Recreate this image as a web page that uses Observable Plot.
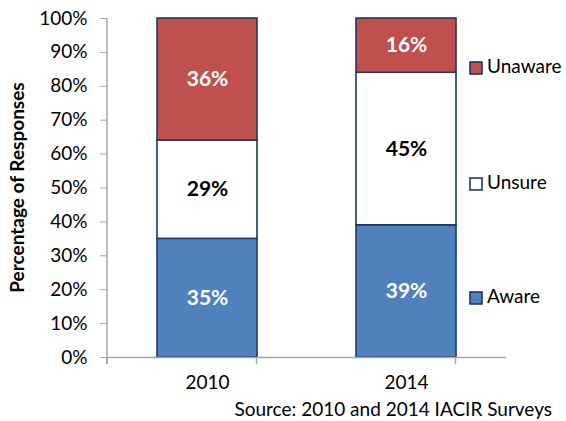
<!DOCTYPE html>
<html>
<head>
<meta charset="utf-8">
<script src="https://cdn.jsdelivr.net/npm/d3@7"></script>
<script src="https://cdn.jsdelivr.net/npm/@observablehq/plot@0.6"></script>
<style>
  html, body { margin: 0; padding: 0; background: #fff; }
  #chart svg { display: block; }
</style>
</head>
<body>
<div id="chart"></div>
<script>
const years = ["2010", "2014"];
const categories = ["Aware", "Unsure", "Unaware"];
const aware = [35, 39];
const unsure = [29, 45];
const unaware = [36, 16];
const yTicks = [0, 10, 20, 30, 40, 50, 60, 70, 80, 90, 100];
const colors = ["#4F81BD", "#FFFFFF", "#C0504D"];
const labelColors = ["#FFFFFF", "#000000", "#FFFFFF"];

const series = [aware, unsure, unaware];
const data = [];
categories.forEach((c, ci) => years.forEach((y, yi) => data.push({year: y, category: c, value: series[ci][yi]})));

const FONT = "Lato, 'Open Sans', sans-serif";
const stroke = "#1F3864";

const plot = Plot.plot({
  width: 566,
  height: 421,
  marginLeft: 107,
  marginRight: 60,
  marginTop: 18,
  marginBottom: 64,
  style: {fontFamily: FONT, fontSize: "19px", color: "#000", background: "#fff"},
  x: {domain: years, paddingInner: 0.5, paddingOuter: 0.25, label: null},
  y: {domain: [0, 100], label: null},
  color: {domain: categories, range: colors},
  marks: [
    Plot.barY(data, {x: "year", y: "value", fill: "category", order: categories, stroke: stroke, strokeWidth: 1.6}),
    Plot.text(data, Plot.stackY({x: "year", y: "value", z: "category", order: categories,
      text: d => d.value + "%",
      fill: d => labelColors[categories.indexOf(d.category)],
      fontWeight: "bold", fontSize: 21})),
    Plot.axisY(yTicks, {tickSize: 7, tickPadding: 13, tickFormat: d => d + "%", stroke: "#A6A6A6", fill: "#000", fontSize: 19, label: null}),
    Plot.axisX({tickSize: 0, tickPadding: 18, fontSize: 19, label: null}),
    Plot.ruleY([0], {stroke: "#A6A6A6", strokeWidth: 1.5})
  ]
});

const svg = d3.select(plot);
const xs = plot.scale("x");
const ys = plot.scale("y");
const left = xs.range[0], right = xs.range[1];
const y0 = ys.apply(0), y100 = ys.apply(100);
const g = svg.append("g").attr("text-anchor", "start");
// y axis line
g.append("line").attr("x1", left).attr("x2", left).attr("y1", y100).attr("y2", y0 + 7)
  .attr("stroke", "#A6A6A6").attr("stroke-width", 1.5);
// category boundary ticks
const bounds = [left].concat(years.map(y => xs.apply(y) + xs.bandwidth / 2 + (xs.step - xs.bandwidth) / 2));
bounds.forEach(bx => g.append("line").attr("x1", bx).attr("x2", bx).attr("y1", y0).attr("y2", y0 + 7)
  .attr("stroke", "#A6A6A6").attr("stroke-width", 1.5));
// y-axis title
g.append("text").attr("transform", `translate(19,${(y0 + y100) / 2}) rotate(-90)`)
  .attr("text-anchor", "middle").attr("dominant-baseline", "middle")
  .attr("font-weight", "bold").attr("font-size", 19).attr("font-family", FONT)
  .text("Percentage of Responses");
// legend
const legendY = {Unaware: 68, Unsure: 184, Aware: 298};
categories.forEach((c, i) => {
  const cy = legendY[c];
  g.append("rect").attr("x", 470).attr("y", cy - 6).attr("width", 12).attr("height", 12)
    .attr("fill", colors[i]).attr("stroke", stroke).attr("stroke-width", 1.6);
  g.append("text").attr("x", 487).attr("y", cy).attr("text-anchor", "start").attr("dominant-baseline", "middle")
    .attr("font-size", 19).attr("font-family", FONT).text(c);
});
// source
g.append("text").attr("x", 552).attr("y", 411).attr("text-anchor", "end").attr("dominant-baseline", "middle")
  .attr("font-size", 19).attr("font-family", FONT).text("Source: 2010 and 2014 IACIR Surveys");

document.getElementById("chart").appendChild(plot);
</script>
</body>
</html>
